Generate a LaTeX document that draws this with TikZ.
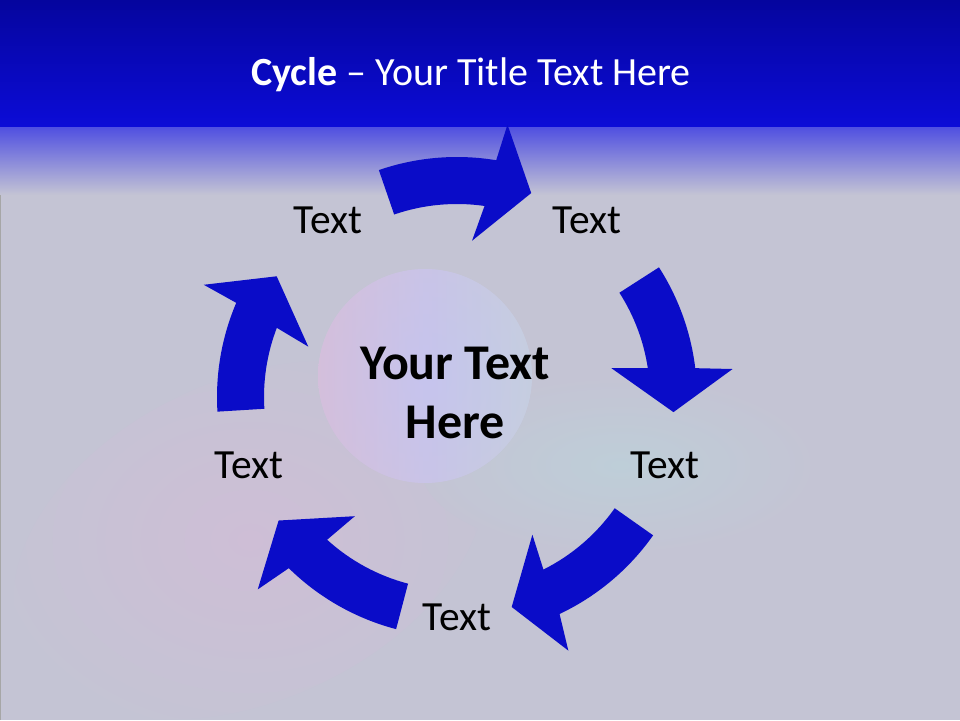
\documentclass[tikz,border=0pt]{standalone}
\usepackage{fontspec}
\setmainfont{Carlito}
\usetikzlibrary{calc}
\definecolor{arrowblue}{RGB}{10,12,200}
\definecolor{bartop}{RGB}{5,5,158}
\definecolor{barbot}{RGB}{12,12,215}
\definecolor{fadetop}{RGB}{78,78,225}
\definecolor{bgcol}{RGB}{196,196,212}
\definecolor{pinkblob}{RGB}{206,190,214}
\definecolor{tealblob}{RGB}{190,206,216}
\definecolor{sphpink}{RGB}{222,186,212}
\definecolor{sphmid}{RGB}{198,196,238}
\definecolor{sphedge}{RGB}{204,196,226}
\definecolor{sphteal}{RGB}{190,218,222}
\tikzset{
  arrowfill/.style={fill=arrowblue},
  lbl/.style={font=\fontsize{41.5}{50}\selectfont, text=black, inner sep=0pt},
}
\newcommand\cycarrow[6]{%
  \fill[arrowfill] ($(C)+(#1:240pt)$) arc[start angle=#1, end angle=#2, radius=240pt]
    -- ($(C)+(#3:277pt)$) -- ($(C)+(#4:217pt)$) -- ($(C)+(#5:157pt)$)
    -- ($(C)+(#6:193pt)$) arc[start angle=#6, end angle=#1, radius=193pt] -- cycle;}
\begin{document}
\begin{tikzpicture}[x=1pt,y=1pt]
\useasboundingbox (0,0) rectangle (960,720);
% background
\fill[bgcol] (0,0) rectangle (960,720);
\begin{scope}
\clip (2,2) rectangle (958,600);
\shade[inner color=pinkblob, outer color=bgcol, rotate around={25:(250,180)}] (250,180) ellipse [x radius=250, y radius=160];
\shade[inner color=tealblob, outer color=bgcol] (620,255) ellipse [x radius=200, y radius=90];
\end{scope}
\draw[gray!70, line width=1.5] (0.5,0) -- (0.5,530);
% title bar
\shade[top color=fadetop, bottom color=bgcol] (0,525) rectangle (960,594);
\shade[top color=bartop, bottom color=barbot] (0,593) rectangle (960,720);
\node[text=white, font=\fontsize{40}{48}\selectfont, inner sep=0pt] (title) at (471,645) {\textbf{Cycle} – Your Title Text Here};
% sphere
\shade[inner color=sphmid, outer color=sphedge] (425,344) circle[radius=107];
\shade[left color=sphpink, right color=sphteal, middle color=sphmid, opacity=0.45] (425,344) circle[radius=107];
% cycle
\coordinate (C) at (457,323);
\node[font=\bfseries\fontsize{50}{59}\selectfont, align=center, inner sep=0pt] (center) at (455,327) {Your Text\\Here};
\cycarrow{109}{80.6}{79.5}{70}{84.5}{81.8}
\cycarrow{32.7}{6.9}{5.8}{-4}{10.6}{8.6}
\cycarrow{-35.2}{-64.7}{-66.3}{-75.4}{-61.3}{-63.4}
\cycarrow{-104.7}{-134.5}{-136}{-145.3}{-130.6}{-132.3}
\cycarrow{183.5}{156.9}{156.1}{146.2}{161.3}{159}
% labels
\node[lbl] (t1) at (328,500) {Text};
\node[lbl] (t2) at (587,500) {Text};
\node[lbl] (t3) at (665,255) {Text};
\node[lbl] (t4) at (457,103) {Text};
\node[lbl] (t5) at (249,255) {Text};
\end{tikzpicture}
\end{document}
